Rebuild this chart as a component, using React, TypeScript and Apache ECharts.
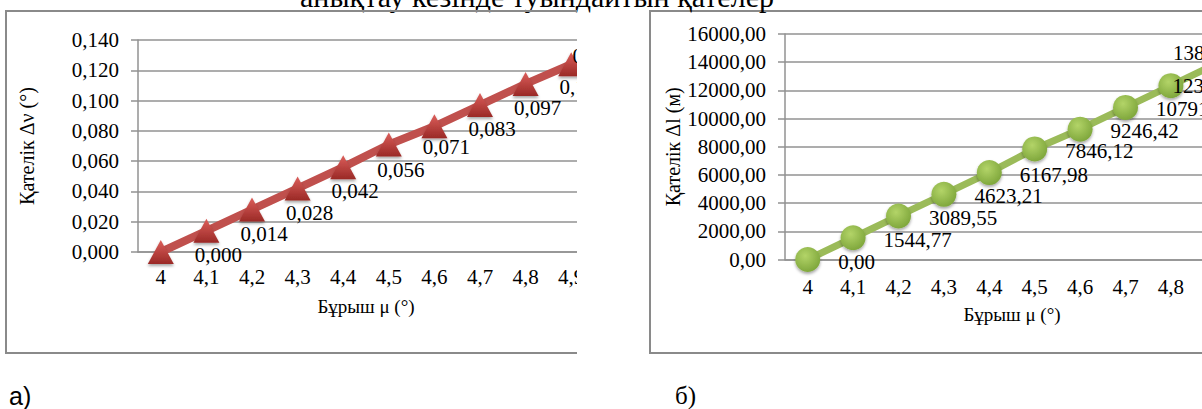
import React, { useEffect, useRef } from "react";
import * as echarts from "echarts";

// ---- data ----
const angleCategories = ["4", "4,1", "4,2", "4,3", "4,4", "4,5", "4,6", "4,7", "4,8", "4,9"];
const errorNuValues = [0.0, 0.014, 0.028, 0.042, 0.056, 0.071, 0.083, 0.097, 0.111, 0.124];
const errorLValues = [0.0, 1544.77, 3089.55, 4623.21, 6167.98, 7846.12, 9246.42, 10791.19, 12335.96, 13880.74];
const nuAxis = { min: 0, max: 0.14, interval: 0.02, decimals: 3 };
const lAxis = { min: 0, max: 16000, interval: 2000, decimals: 2 };

const xTitle = "Бұрыш μ (°)";
const yTitleNu = "Қателік Δν (°)";
const yTitleL = "Қателік Δl (м)";
const pageTitle = "анықтау кезінде туындайтын қателер";
const panelA = "а)";
const panelB = "б)";

const SERIF = "'Liberation Serif', 'Times New Roman', serif";
const fmt = (d: number) => (v: number) => Number(v).toFixed(d).replace(".", ",");

const GRID_COLOR = "#929292";
const FRAME_COLOR = "#8a8a8a";

function axisCommon() {
  return {
    axisLine: { show: true, lineStyle: { color: GRID_COLOR, width: 1.5 } },
    splitLine: { show: true, lineStyle: { color: GRID_COLOR, width: 1.5 } },
  };
}

function buildLeft(): any {
  const last = errorNuValues.length - 1;
  const data = errorNuValues.map((v, i) =>
    i === last ? { value: v, label: { position: "inside", offset: [25, -8] } } : v
  );
  return {
    animation: false,
    backgroundColor: "transparent",
    textStyle: { fontFamily: SERIF },
    graphic: [
      {
        type: "rect",
        z: -10,
        shape: { x: 6, y: 11, width: 620, height: 342 },
        style: { fill: "none", stroke: FRAME_COLOR, lineWidth: 2 },
      },
    ],
    grid: { left: 138, top: 40, width: 456, height: 212 },
    xAxis: {
      type: "category",
      data: angleCategories,
      boundaryGap: true,
      ...axisCommon(),
      splitLine: { show: false },
      axisTick: { show: false },
      axisLabel: { interval: 0, fontSize: 21, color: "#000", margin: 14, fontFamily: SERIF },
      name: xTitle,
      nameLocation: "middle",
      nameGap: 45,
      nameTextStyle: { fontSize: 19, color: "#000", fontFamily: SERIF },
    },
    yAxis: {
      type: "value",
      min: nuAxis.min,
      max: nuAxis.max,
      interval: nuAxis.interval,
      ...axisCommon(),
      axisTick: { show: true, inside: false, length: 7, lineStyle: { color: GRID_COLOR, width: 1.5 } },
      axisLabel: { formatter: fmt(nuAxis.decimals), fontSize: 21, color: "#000", margin: 19, fontFamily: SERIF },
      name: yTitleNu,
      nameLocation: "middle",
      nameGap: 101,
      nameRotate: 90,
      nameTextStyle: { fontSize: 20, color: "#000", fontFamily: SERIF },
    },
    series: [
      {
        type: "line",
        data,
        symbol: "triangle",
        symbolSize: [26, 24],
        lineStyle: { color: "#c0504d", width: 8 },
        itemStyle: {
          color: new echarts.graphic.LinearGradient(0, 0, 0, 1, [
            { offset: 0, color: "#dc5f5b" },
            { offset: 1, color: "#9a2926" },
          ]),
          shadowColor: "rgba(0,0,0,0.35)",
          shadowBlur: 3,
          shadowOffsetY: 2,
        },
        label: {
          show: true,
          position: "right",
          distance: 21,
          offset: [0, 3],
          fontSize: 21,
          color: "#000",
          fontFamily: SERIF,
          formatter: (p: any) => fmt(nuAxis.decimals)(p.value),
        },
      },
    ],
  };
}

function buildRight(): any {
  const n = errorLValues.length;
  const data = errorLValues.map((v, i) => {
    if (i === n - 2) return { value: v, label: { position: "inside", offset: [41, 0] } };
    if (i === n - 1) return { value: v, label: { position: "inside", offset: [-4, -11] } };
    return v;
  });
  return {
    animation: false,
    textStyle: { fontFamily: SERIF },
    graphic: [
      {
        type: "rect",
        z: -10,
        shape: { x: 650, y: 11, width: 640, height: 342 },
        style: { fill: "none", stroke: FRAME_COLOR, lineWidth: 2 },
      },
      {
        type: "text",
        x: 537,
        y: -3.5,
        style: {
          text: pageTitle,
          font: `30px ${SERIF}`,
          fill: "#000",
          align: "center",
          verticalAlign: "middle",
        },
      },
      {
        type: "text",
        x: 9,
        y: 396,
        style: {
          text: panelA,
          font: `25px 'Liberation Sans', Arial, sans-serif`,
          fill: "#000",
          align: "left",
          verticalAlign: "middle",
        },
      },
      {
        type: "text",
        x: 675,
        y: 395,
        style: {
          text: panelB,
          font: `25px ${SERIF}`,
          fill: "#000",
          align: "left",
          verticalAlign: "middle",
        },
      },
    ],
    grid: { left: 785, top: 34, width: 454, height: 225.5 },
    xAxis: {
      type: "category",
      data: angleCategories,
      boundaryGap: true,
      ...axisCommon(),
      splitLine: { show: false },
      axisTick: { show: false },
      axisLabel: { interval: 0, fontSize: 21, color: "#000", margin: 17, fontFamily: SERIF },
      name: xTitle,
      nameLocation: "middle",
      nameGap: 45,
      nameTextStyle: { fontSize: 19, color: "#000", fontFamily: SERIF },
    },
    yAxis: {
      type: "value",
      min: lAxis.min,
      max: lAxis.max,
      interval: lAxis.interval,
      ...axisCommon(),
      axisTick: { show: true, inside: false, length: 7, lineStyle: { color: GRID_COLOR, width: 1.5 } },
      axisLabel: { formatter: fmt(lAxis.decimals), fontSize: 21, color: "#000", margin: 19, fontFamily: SERIF },
      name: yTitleL,
      nameLocation: "middle",
      nameGap: 98,
      nameRotate: 90,
      nameTextStyle: { fontSize: 20, color: "#000", fontFamily: SERIF },
    },
    series: [
      {
        type: "line",
        data,
        symbol: "circle",
        symbolSize: 25,
        lineStyle: { color: "#9bbb59", width: 7 },
        itemStyle: {
          color: new echarts.graphic.RadialGradient(0.4, 0.35, 0.75, [
            { offset: 0, color: "#b3d468" },
            { offset: 1, color: "#78a136" },
          ]),
          shadowColor: "rgba(0,0,0,0.35)",
          shadowBlur: 3,
          shadowOffsetY: 2,
        },
        label: {
          show: true,
          position: "right",
          distance: 18,
          offset: [0, 2],
          fontSize: 21,
          color: "#000",
          fontFamily: SERIF,
          formatter: (p: any) => fmt(lAxis.decimals)(p.value),
        },
      },
    ],
  };
}

export default function App() {
  const leftRef = useRef<HTMLDivElement>(null);
  const rightRef = useRef<HTMLDivElement>(null);

  useEffect(() => {
    const right = echarts.init(rightRef.current!, undefined, { renderer: "svg" });
    right.setOption(buildRight());
    const left = echarts.init(leftRef.current!, undefined, { renderer: "svg" });
    left.setOption(buildLeft());
    return () => {
      left.dispose();
      right.dispose();
    };
  }, []);

  return (
    <div
      style={{
        position: "absolute",
        left: 0,
        top: 0,
        width: 1202,
        height: 409,
        overflow: "hidden",
        background: "#fff",
      }}
    >
      <div ref={rightRef} style={{ position: "absolute", left: 0, top: 0, width: 1300, height: 409 }} />
      <div style={{ position: "absolute", left: 0, top: 0, width: 577, height: 409, overflow: "hidden" }}>
        <div ref={leftRef} style={{ position: "absolute", left: 0, top: 0, width: 640, height: 409 }} />
      </div>
    </div>
  );
}
